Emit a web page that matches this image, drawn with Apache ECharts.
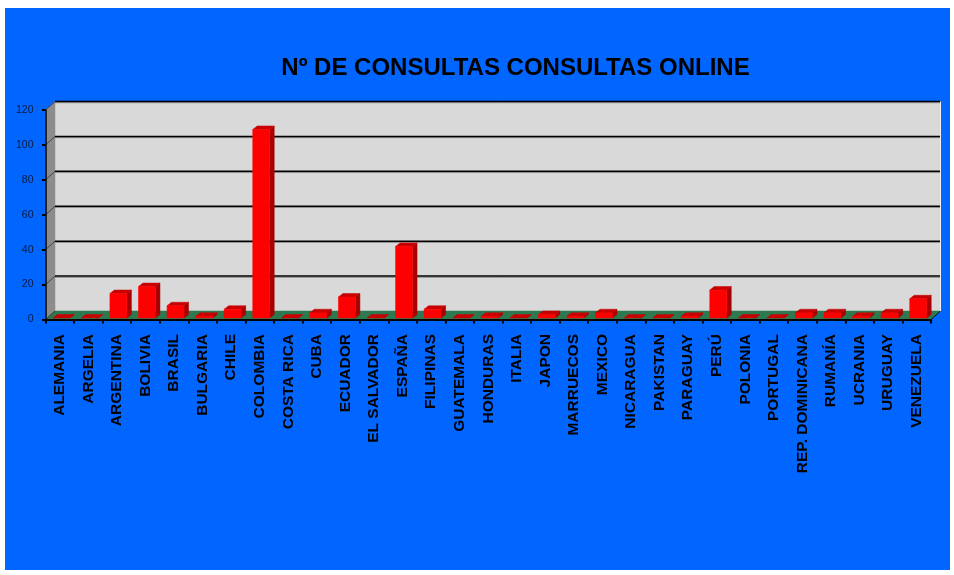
<!DOCTYPE html>
<html><head><meta charset="utf-8">
<style>
html,body{margin:0;padding:0;background:#fff;width:954px;height:575px;overflow:hidden}
#bg{position:absolute;left:5px;top:8px;width:945px;height:562px;background:#0066ff}
#c{position:absolute;left:0;top:0;width:954px;height:575px}
</style>
<script src="https://cdn.jsdelivr.net/npm/echarts@6/dist/echarts.min.js"></script>
</head><body><div id="bg"></div><div id="c"></div>
<script>
const titleText = 'Nº DE CONSULTAS CONSULTAS ONLINE';
const categories = ['ALEMANIA','ARGELIA','ARGENTINA','BOLIVIA','BRASIL','BULGARIA','CHILE','COLOMBIA','COSTA RICA','CUBA','ECUADOR','EL SALVADOR','ESPAÑA','FILIPINAS','GUATEMALA','HONDURAS','ITALIA','JAPON','MARRUECOS','MEXICO','NICARAGUA','PAKISTAN','PARAGUAY','PERÚ','POLONIA','PORTUGAL','REP. DOMINICANA','RUMANÍA','UCRANIA','URUGUAY','VENEZUELA'];
const consultas = [0,0,14,18,7,1,5,108,0,3,12,0,41,5,0,1,0,2,1,3,0,0,1,16,0,0,3,3,1,3,11];
const yTicks = [0,20,40,60,80,100,120];

const DX = 9.5, DY = 8.5;       // depth of the box
const BAR_W = 17, BDX = 4.5, BDY = 3.5, BAR_LIFT = 1.5, BAR_SHIFT = 1.5;

function poly(points, fill, stroke, lw){
  return {type:'polygon', shape:{points}, style:{fill, stroke: stroke||fill, lineWidth: lw===undefined?0.5:lw}};
}
function line(x1,y1,x2,y2,color,w){
  return {type:'line', shape:{x1,y1,x2,y2}, style:{stroke:color, lineWidth:w, fill:null}};
}
function renderBox(params, api){
  const g = params.coordSys, L=g.x, R=g.x+g.width, T=g.y, B=g.y+g.height;
  const ch = [];
  ch.push(poly([[L+DX,T-DY],[R+DX,T-DY],[R+DX,B-DY],[L+DX,B-DY]],'#d9d9d9','#d9d9d9'));
  ch.push(poly([[L,T],[L+DX,T-DY],[L+DX,B-DY],[L,B]],'#8c8c8c','#8c8c8c'));
  ch.push(poly([[L,B],[L+DX,B-DY],[R+DX,B-DY],[R,B]],'#2e7a50','#2e7a50'));
  yTicks.forEach(v=>{
    const y = api.coord([0,v])[1];
    if(v>0){
      ch.push(line(L+DX,y-DY+1.2,R+DX,y-DY+1.2,'#8c8c8c',1));
      ch.push(line(L,y,L+DX,y-DY,'#333',0.8));
      ch.push(line(L+DX,y-DY,R+DX,y-DY,'#000',1.5));
    } else {
      ch.push(line(L,y,L+DX,y-DY,'#333',0.8));
    }
  });
  ch.push(line(R,B,R+DX,B-DY,'#111',1));
  ch.push(line(R+DX,T-DY,R+DX,B-DY,'#f2f2f2',1));
  return {type:'group', children:ch};
}
function renderBar(params, api){
  const c0 = api.coord([api.value(0),0]), c1 = api.coord([api.value(0),api.value(1)]);
  const x0 = c0[0]-BAR_W/2+BAR_SHIFT, x1 = x0+BAR_W;
  const b = c0[1]-BAR_LIFT, t = c1[1]-BAR_LIFT;
  const ch = [];
  ch.push(poly([[x1,t],[x1+BDX,t-BDY],[x1+BDX,b-BDY],[x1,b]],'#a80000'));
  ch.push(poly([[x0,t],[x0+BDX,t-BDY],[x1+BDX,t-BDY],[x1,t]],'#c80000'));
  if(b-t>0.5) ch.push(poly([[x0,t],[x1,t],[x1,b],[x0,b]],'#ff0000'));
  return {type:'group', children:ch};
}

const chart = echarts.init(document.getElementById('c'), null, {renderer:'canvas'});
chart.setOption({
  backgroundColor:'transparent',
  animation:false,
  title:{text:titleText, left:510.5, top:51, textAlign:'center',
    textStyle:{fontFamily:'Liberation Sans', fontWeight:'bold', fontSize:24, color:'#000'}},
  grid:{left:45.5, right:23, top:110, bottom:255.5, containLabel:false},
  xAxis:{type:'category', data:categories, boundaryGap:true,
    axisLine:{show:true, onZero:false, lineStyle:{color:'#000', width:2}},
    axisTick:{show:true, alignWithLabel:false, length:4, lineStyle:{color:'#000', width:2}},
    axisLabel:{interval:0, rotate:90, margin:14.5, color:'#000', fontFamily:'Liberation Sans', fontWeight:'bold', fontSize:15.5, padding:[0,0,3,0]},
    splitLine:{show:false}, z:5},
  yAxis:{type:'value', min:0, max:120, interval:20,
    axisLine:{show:true, lineStyle:{color:'#000', width:1.5}},
    axisTick:{show:true, length:3.5, lineStyle:{color:'#000', width:2}},
    axisLabel:{margin:12, color:'#0a1a40', fontFamily:'Liberation Sans', fontSize:10.5},
    splitLine:{show:false}, z:5},
  series:[
    {type:'custom', name:'caja', silent:true, z:1, clip:false, renderItem:renderBox, data:[[0,0]], encode:{x:0,y:1}},
    {type:'custom', name:'Consultas', z:3, clip:false, renderItem:renderBar,
     data:consultas.map((v,i)=>[i,v]), encode:{x:0,y:1}}
  ]
});
</script></body></html>
